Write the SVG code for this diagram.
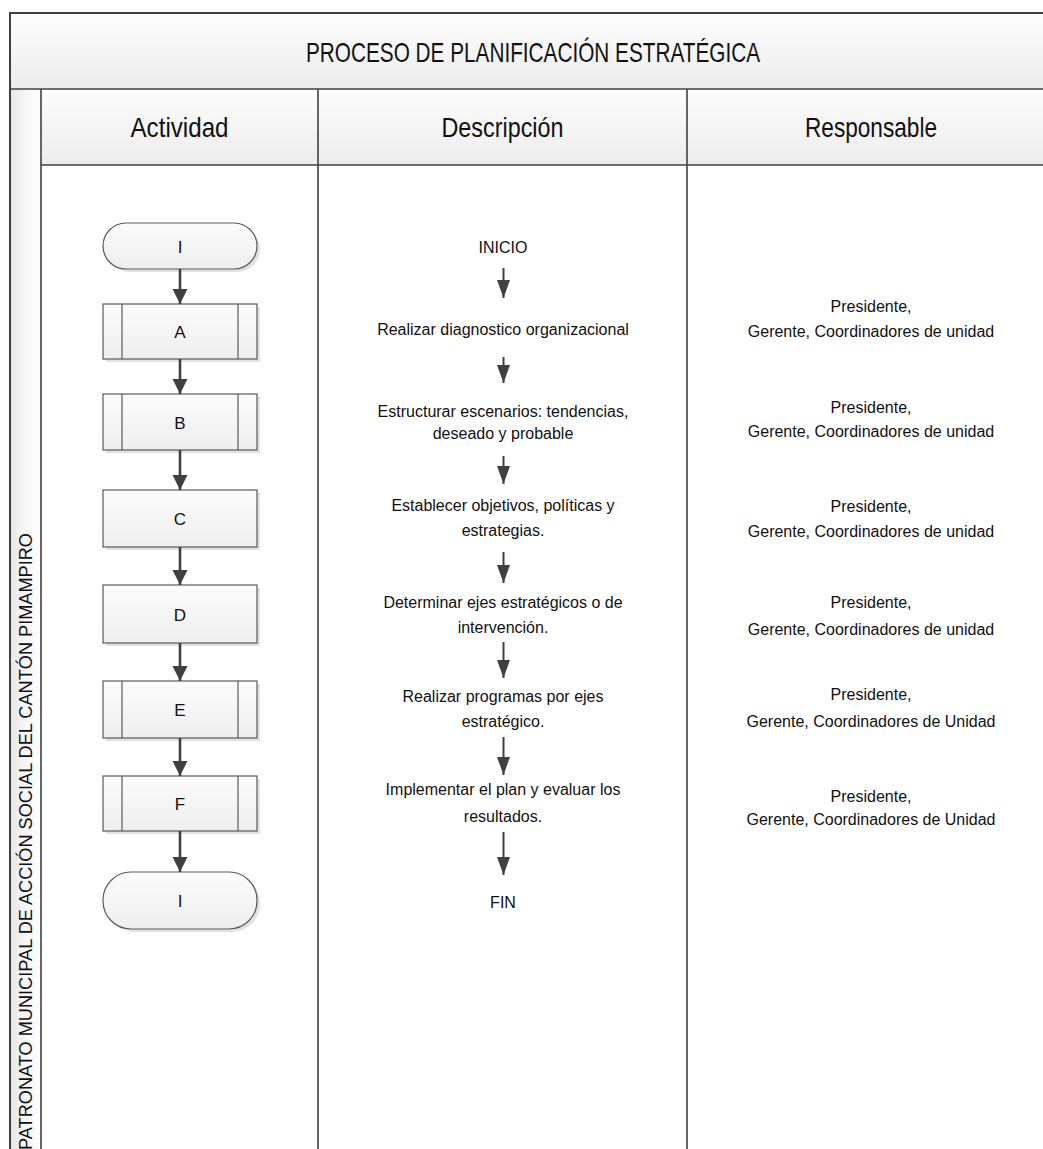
<svg xmlns="http://www.w3.org/2000/svg" width="1043" height="1149" viewBox="0 0 1043 1149">
  <defs>
    <linearGradient id="bandV" x1="0" y1="0" x2="0" y2="1">
      <stop offset="0" stop-color="#fdfdfd"/>
      <stop offset="1" stop-color="#ececec"/>
    </linearGradient>
    <linearGradient id="bandH" x1="0" y1="0" x2="1" y2="0">
      <stop offset="0" stop-color="#e6e6e6"/>
      <stop offset="0.5" stop-color="#f7f7f7"/>
      <stop offset="1" stop-color="#fdfdfd"/>
    </linearGradient>
    <linearGradient id="nodeFill" x1="0" y1="0" x2="0" y2="1">
      <stop offset="0" stop-color="#fcfcfc"/>
      <stop offset="1" stop-color="#eeeeee"/>
    </linearGradient>
    <marker id="headBig" markerUnits="userSpaceOnUse" markerWidth="16" markerHeight="18" refX="15" refY="7.5" orient="auto">
      <path d="M0,0 L15,7.5 L0,15 Z" fill="#404040"/>
    </marker>
    <marker id="headSmall" markerUnits="userSpaceOnUse" markerWidth="20" markerHeight="14" refX="18" refY="6.5" orient="auto">
      <path d="M0,0 L18,6.5 L0,13 Z" fill="#404040"/>
    </marker>
    <style>
      .frame { fill: none; stroke: #404040; stroke-width: 2; }
      .grid { stroke: #404040; stroke-width: 1.6; fill: none; }
      .head { font-family: "Liberation Sans", Arial, sans-serif; font-size: 28px; fill: #111; text-anchor: middle; }
      .band { font-family: "Liberation Sans", Arial, sans-serif; font-size: 18px; fill: #111; }
      .txt { font-family: "Liberation Sans", Arial, sans-serif; font-size: 16px; fill: #111; text-anchor: middle; }
      .lbl { font-family: "Liberation Sans", Arial, sans-serif; font-size: 17px; fill: #111; text-anchor: middle; }
      .shape { fill: url(#nodeFill); stroke: #5a5a5a; stroke-width: 1.2; }
      .shadow { fill: #e2e2e2; }
      .inner { stroke: #5a5a5a; stroke-width: 1.2; }
      .flow { stroke: #404040; stroke-width: 2.6; fill: none; marker-end: url(#headBig); }
      .step { stroke: #404040; stroke-width: 2; fill: none; marker-end: url(#headSmall); }
    </style>
  </defs>

  <rect width="1043" height="1149" fill="#ffffff"/>

  <!-- table: title band, header row, side band and columns -->
  <g id="table">
    <rect x="10" y="13" width="1050" height="76" fill="url(#bandV)"/>
    <rect x="41" y="89" width="1019" height="76" fill="url(#bandV)"/>
    <rect x="10" y="89" width="31" height="1070" fill="url(#bandH)"/>
    <rect class="frame" x="10" y="13" width="1050" height="1150"/>
    <line class="grid" x1="10" y1="89" x2="1060" y2="89"/>
    <line class="grid" x1="41" y1="165" x2="1060" y2="165"/>
    <line class="grid" x1="41" y1="89" x2="41" y2="1160"/>
    <line class="grid" x1="318" y1="89" x2="318" y2="1160"/>
    <line class="grid" x1="687" y1="89" x2="687" y2="1160"/>
    <text class="head" x="533" y="62" textLength="454" lengthAdjust="spacingAndGlyphs">PROCESO DE PLANIFICACIÓN ESTRATÉGICA</text>
    <text class="head" x="179.5" y="137" textLength="98" lengthAdjust="spacingAndGlyphs">Actividad</text>
    <text class="head" x="502.5" y="137" textLength="122" lengthAdjust="spacingAndGlyphs">Descripción</text>
    <text class="head" x="871" y="137" textLength="132" lengthAdjust="spacingAndGlyphs">Responsable</text>
    <text class="band" transform="translate(32,1150) rotate(-90)" x="0" y="0" textLength="617" lengthAdjust="spacingAndGlyphs">PATRONATO MUNICIPAL DE ACCIÓN SOCIAL DEL CANTÓN PIMAMPIRO</text>
  </g>

  <!-- activity nodes -->
  <g id="node-start">
    <rect class="shadow" x="106" y="226" width="154" height="46" rx="23"/>
    <rect class="shape" x="103" y="223" width="154" height="46" rx="23"/>
    <text class="lbl" x="180" y="252.5">I</text>
  </g>
  <g id="node-a">
    <rect class="shadow" x="106" y="307" width="154" height="55"/>
    <rect class="shape" x="103" y="304" width="154" height="55"/>
    <line class="inner" x1="122" y1="304" x2="122" y2="359"/>
    <line class="inner" x1="238" y1="304" x2="238" y2="359"/>
    <text class="lbl" x="180" y="338">A</text>
  </g>
  <g id="node-b">
    <rect class="shadow" x="106" y="397" width="154" height="56"/>
    <rect class="shape" x="103" y="394" width="154" height="56"/>
    <line class="inner" x1="122" y1="394" x2="122" y2="450"/>
    <line class="inner" x1="238" y1="394" x2="238" y2="450"/>
    <text class="lbl" x="180" y="428.5">B</text>
  </g>
  <g id="node-c">
    <rect class="shadow" x="106" y="493" width="154" height="57"/>
    <rect class="shape" x="103" y="490" width="154" height="57"/>
    <text class="lbl" x="180" y="525">C</text>
  </g>
  <g id="node-d">
    <rect class="shadow" x="106" y="588" width="154" height="58"/>
    <rect class="shape" x="103" y="585" width="154" height="58"/>
    <text class="lbl" x="180" y="620.5">D</text>
  </g>
  <g id="node-e">
    <rect class="shadow" x="106" y="684" width="154" height="57"/>
    <rect class="shape" x="103" y="681" width="154" height="57"/>
    <line class="inner" x1="122" y1="681" x2="122" y2="738"/>
    <line class="inner" x1="238" y1="681" x2="238" y2="738"/>
    <text class="lbl" x="180" y="716">E</text>
  </g>
  <g id="node-f">
    <rect class="shadow" x="106" y="779" width="154" height="55"/>
    <rect class="shape" x="103" y="776" width="154" height="55"/>
    <line class="inner" x1="122" y1="776" x2="122" y2="831"/>
    <line class="inner" x1="238" y1="776" x2="238" y2="831"/>
    <text class="lbl" x="180" y="810">F</text>
  </g>
  <g id="node-end">
    <rect class="shadow" x="106" y="875" width="154" height="57" rx="28"/>
    <rect class="shape" x="103" y="872" width="154" height="57" rx="28"/>
    <text class="lbl" x="180" y="907">I</text>
  </g>

  <!-- description steps -->
  <g id="desc-steps">
    <text class="txt" x="503" y="253">INICIO</text>
    <text class="txt" x="503" y="335">Realizar diagnostico organizacional</text>
    <text class="txt" x="503" y="417">Estructurar escenarios: tendencias,</text>
    <text class="txt" x="503" y="439">deseado y probable</text>
    <text class="txt" x="503" y="511">Establecer objetivos, políticas y</text>
    <text class="txt" x="503" y="536">estrategias.</text>
    <text class="txt" x="503" y="608">Determinar ejes estratégicos o de</text>
    <text class="txt" x="503" y="633">intervención.</text>
    <text class="txt" x="503" y="702">Realizar programas por ejes</text>
    <text class="txt" x="503" y="727">estratégico.</text>
    <text class="txt" x="503" y="795">Implementar el plan y evaluar los</text>
    <text class="txt" x="503" y="822">resultados.</text>
    <text class="txt" x="503" y="908">FIN</text>
  </g>

  <!-- responsible roles -->
  <g id="responsables">
    <text class="txt" x="871" y="312">Presidente,</text>
    <text class="txt" x="871" y="337">Gerente, Coordinadores de unidad</text>
    <text class="txt" x="871" y="413">Presidente,</text>
    <text class="txt" x="871" y="437">Gerente, Coordinadores de unidad</text>
    <text class="txt" x="871" y="512">Presidente,</text>
    <text class="txt" x="871" y="537">Gerente, Coordinadores de unidad</text>
    <text class="txt" x="871" y="608">Presidente,</text>
    <text class="txt" x="871" y="635">Gerente, Coordinadores de unidad</text>
    <text class="txt" x="871" y="700">Presidente,</text>
    <text class="txt" x="871" y="727">Gerente, Coordinadores de Unidad</text>
    <text class="txt" x="871" y="802">Presidente,</text>
    <text class="txt" x="871" y="825">Gerente, Coordinadores de Unidad</text>
  </g>

  <!-- connectors -->
  <g id="connectors">
    <line class="flow" x1="180" y1="269" x2="180" y2="304"/>
    <line class="flow" x1="180" y1="359" x2="180" y2="394"/>
    <line class="flow" x1="180" y1="450" x2="180" y2="490"/>
    <line class="flow" x1="180" y1="547" x2="180" y2="585"/>
    <line class="flow" x1="180" y1="643" x2="180" y2="681"/>
    <line class="flow" x1="180" y1="738" x2="180" y2="776"/>
    <line class="flow" x1="180" y1="831" x2="180" y2="872"/>

    <line class="step" x1="503.5" y1="268" x2="503.5" y2="298"/>
    <line class="step" x1="503.5" y1="357" x2="503.5" y2="383"/>
    <line class="step" x1="503.5" y1="456" x2="503.5" y2="484"/>
    <line class="step" x1="503.5" y1="552" x2="503.5" y2="583"/>
    <line class="step" x1="503.5" y1="642" x2="503.5" y2="678"/>
    <line class="step" x1="503.5" y1="737" x2="503.5" y2="775"/>
    <line class="step" x1="503.5" y1="832" x2="503.5" y2="875"/>
  </g>
</svg>
